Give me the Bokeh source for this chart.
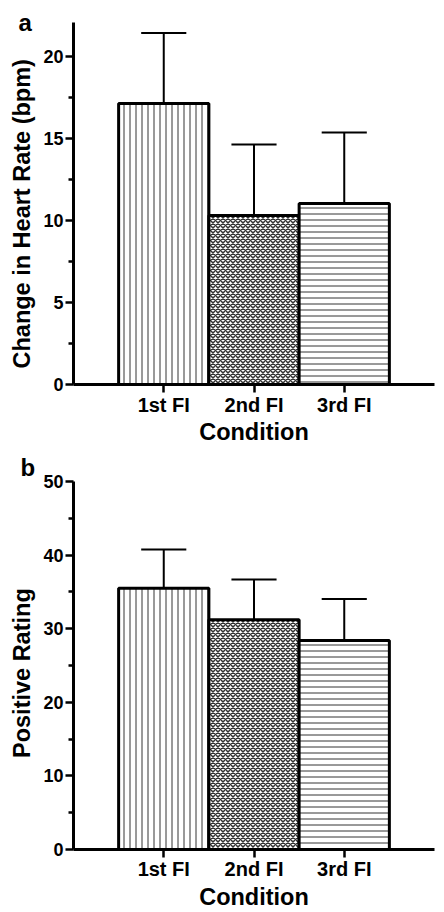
from bokeh.plotting import figure
from bokeh.layouts import column
from bokeh.models import FixedTicker, ColumnDataSource, Range1d, Title
from bokeh.embed import file_html
from bokeh.resources import INLINE

conditions = ["1st FI", "2nd FI", "3rd FI"]
hr_mean = [17.13, 10.30, 11.04]
hr_err = [4.30, 4.33, 4.33]
rating_mean = [35.5, 31.2, 28.4]
rating_err = [5.25, 5.5, 5.65]
hatches = ["vertical_line", "diagonal_cross", "horizontal_line"]
hatch_scales = [6, 5, 6]
hatch_weights = [1, 1.5, 1]
hr_ticks = [0, 5, 10, 15, 20]
rating_ticks = [0, 10, 20, 30, 40, 50]

FONT = "Liberation Sans"


def make_panel(means, errs, ymax, ticks, ylabel, letter, height, top,
               bottom, left, right, letter_offset, letter_standoff,
               ylab_offset, xlab_standoff, xtick_standoff):
    p = figure(width=444, height=height, x_range=Range1d(0, 4),
               y_range=Range1d(0, ymax), output_backend="svg",
               toolbar_location=None, min_border_left=left,
               min_border_right=right, min_border_top=top,
               min_border_bottom=bottom)
    p.outline_line_color = None
    p.grid.visible = False
    xs = list(range(1, len(conditions) + 1))
    src = ColumnDataSource(dict(
        x=xs, top=means, hi=[m + e for m, e in zip(means, errs)],
        l=[x - 0.25 for x in xs], r=[x + 0.25 for x in xs],
        hatch=hatches, hs=hatch_scales, hw=hatch_weights))
    p.segment(x0="x", y0="top", x1="x", y1="hi", source=src,
              line_color="black", line_width=2)
    p.segment(x0="l", y0="hi", x1="r", y1="hi", source=src,
              line_color="black", line_width=2)
    p.vbar(x="x", top="top", bottom=0, width=1, source=src,
           fill_color="white", line_color="black", line_width=3,
           hatch_pattern="hatch", hatch_scale="hs", hatch_color="#333333",
           hatch_weight="hw")

    for ax in (p.xaxis[0], p.yaxis[0]):
        ax.axis_line_width = 3
        ax.axis_line_color = "black"
        ax.major_tick_line_width = 2.5
        ax.major_tick_line_color = "black"
        ax.major_tick_out = 8
        ax.major_tick_in = 0
        ax.major_label_text_font = FONT
        ax.major_label_text_font_style = "bold"
        ax.major_label_text_color = "black"

    p.xaxis.ticker = FixedTicker(ticks=xs)
    p.xaxis.major_label_overrides = {x: c for x, c in zip(xs, conditions)}
    p.xaxis.major_label_text_font_size = "20px"
    p.xaxis.major_label_standoff = xtick_standoff

    minors = [(a + b) / 2 for a, b in zip(ticks[:-1], ticks[1:])]
    p.yaxis.ticker = FixedTicker(ticks=ticks, minor_ticks=minors)
    p.yaxis.minor_tick_out = 5
    p.yaxis.minor_tick_in = 0
    p.yaxis.minor_tick_line_width = 2.5
    p.yaxis.minor_tick_line_color = "black"
    p.yaxis.major_label_text_font_size = "18px"
    p.yaxis.major_label_standoff = 2

    # panel letter
    p.title.text = letter
    p.title.align = "left"
    p.title.vertical_align = "bottom"
    p.title.offset = letter_offset
    p.title.standoff = letter_standoff
    p.title.text_font = FONT
    p.title.text_font_style = "bold"
    p.title.text_font_size = "24px"
    p.title.text_color = "black"

    p.add_layout(Title(text=ylabel, align="left", vertical_align="bottom",
                       offset=ylab_offset, standoff=12, text_font=FONT,
                       text_font_style="bold", text_font_size="23.5px",
                       text_color="black"), "left")
    p.add_layout(Title(text="Condition", align="center", vertical_align="top",
                       standoff=xlab_standoff, text_font=FONT,
                       text_font_style="bold", text_font_size="23.5px",
                       text_color="black"), "below")
    return p


p1 = make_panel(hr_mean, hr_err, 22.07, hr_ticks,
                "Change in Heart Rate (bpm)", "a", 449, 22, 65, 72, 10,
                -55, -26, 16, 0, 1)
p2 = make_panel(rating_mean, rating_err, 50, rating_ticks,
                "Positive Rating", "b", 463, 32, 60, 73, 1,
                -53, 1, 91.5, 2, 0)

layout = column(p1, p2)
open("out.html", "w").write(file_html(layout, INLINE))
